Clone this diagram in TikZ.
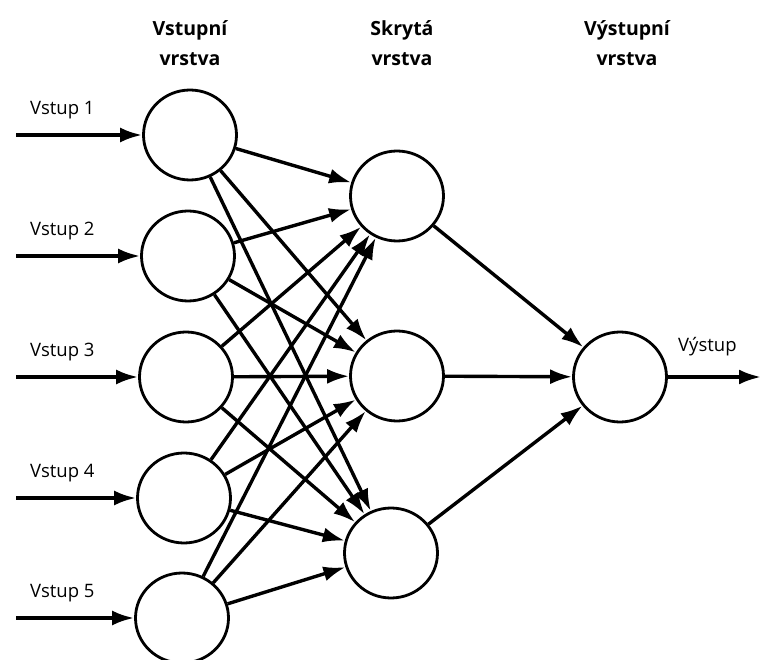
\documentclass[tikz,border=0pt]{standalone}
\usepackage{fontspec}
\setmainfont{Open Sans}
\usetikzlibrary{arrows.meta,shapes.geometric}
\begin{document}
\begin{tikzpicture}[x=1pt,y=-1pt,
  neuron/.style={ellipse,draw,line width=2.8pt,inner sep=0pt,minimum width=93pt,minimum height=90pt},
  conn/.style={line width=3.4pt,-{Latex[length=22pt,width=15pt]}},
  lbl/.style={font=\fontsize{18.5}{22}\selectfont,inner sep=0pt},
  head/.style={font=\bfseries\fontsize{19.5}{30}\selectfont,align=center,inner sep=0pt}]
\useasboundingbox (0,0) rectangle (761,660);
% input layer
\node[neuron] (i1) at (190,135) {};
\node[neuron] (i2) at (188,256) {};
\node[neuron] (i3) at (186,377) {};
\node[neuron] (i4) at (184,498) {};
\node[neuron] (i5) at (182,618) {};
% hidden layer
\node[neuron] (h1) at (397,196) {};
\node[neuron] (h2) at (397,376) {};
\node[neuron] (h3) at (391,553) {};
% output
\node[neuron] (o) at (620,377) {};
% headers
\node[head] (t1) at (190,43) {Vstupní\\vrstva};
\node[head] (t2) at (402,43) {Skrytá\\vrstva};
\node[head] (t3) at (627,43) {Výstupní\\vrstva};
% inputs
\foreach \k/\y in {1/135,2/256,3/377,4/498,5/618}{
  \coordinate (s\k) at (16,\y);
  \draw[conn] (s\k) -- (i\k);
  \node[lbl,anchor=west] (l\k) at (30,\y-25) {Vstup \k};
}
% input -> hidden
\foreach \i in {1,...,5}{
  \foreach \h in {1,2,3}{
    \draw[conn] (i\i) -- (h\h);
  }
}
% hidden -> output
\foreach \h in {1,2,3}{
  \draw[conn] (h\h) -- (o);
}
\coordinate (oe) at (761,377);
\draw[conn] (o) -- (oe);
\node[lbl,anchor=west] (ol) at (678,347) {Výstup};
\end{tikzpicture}
\end{document}
